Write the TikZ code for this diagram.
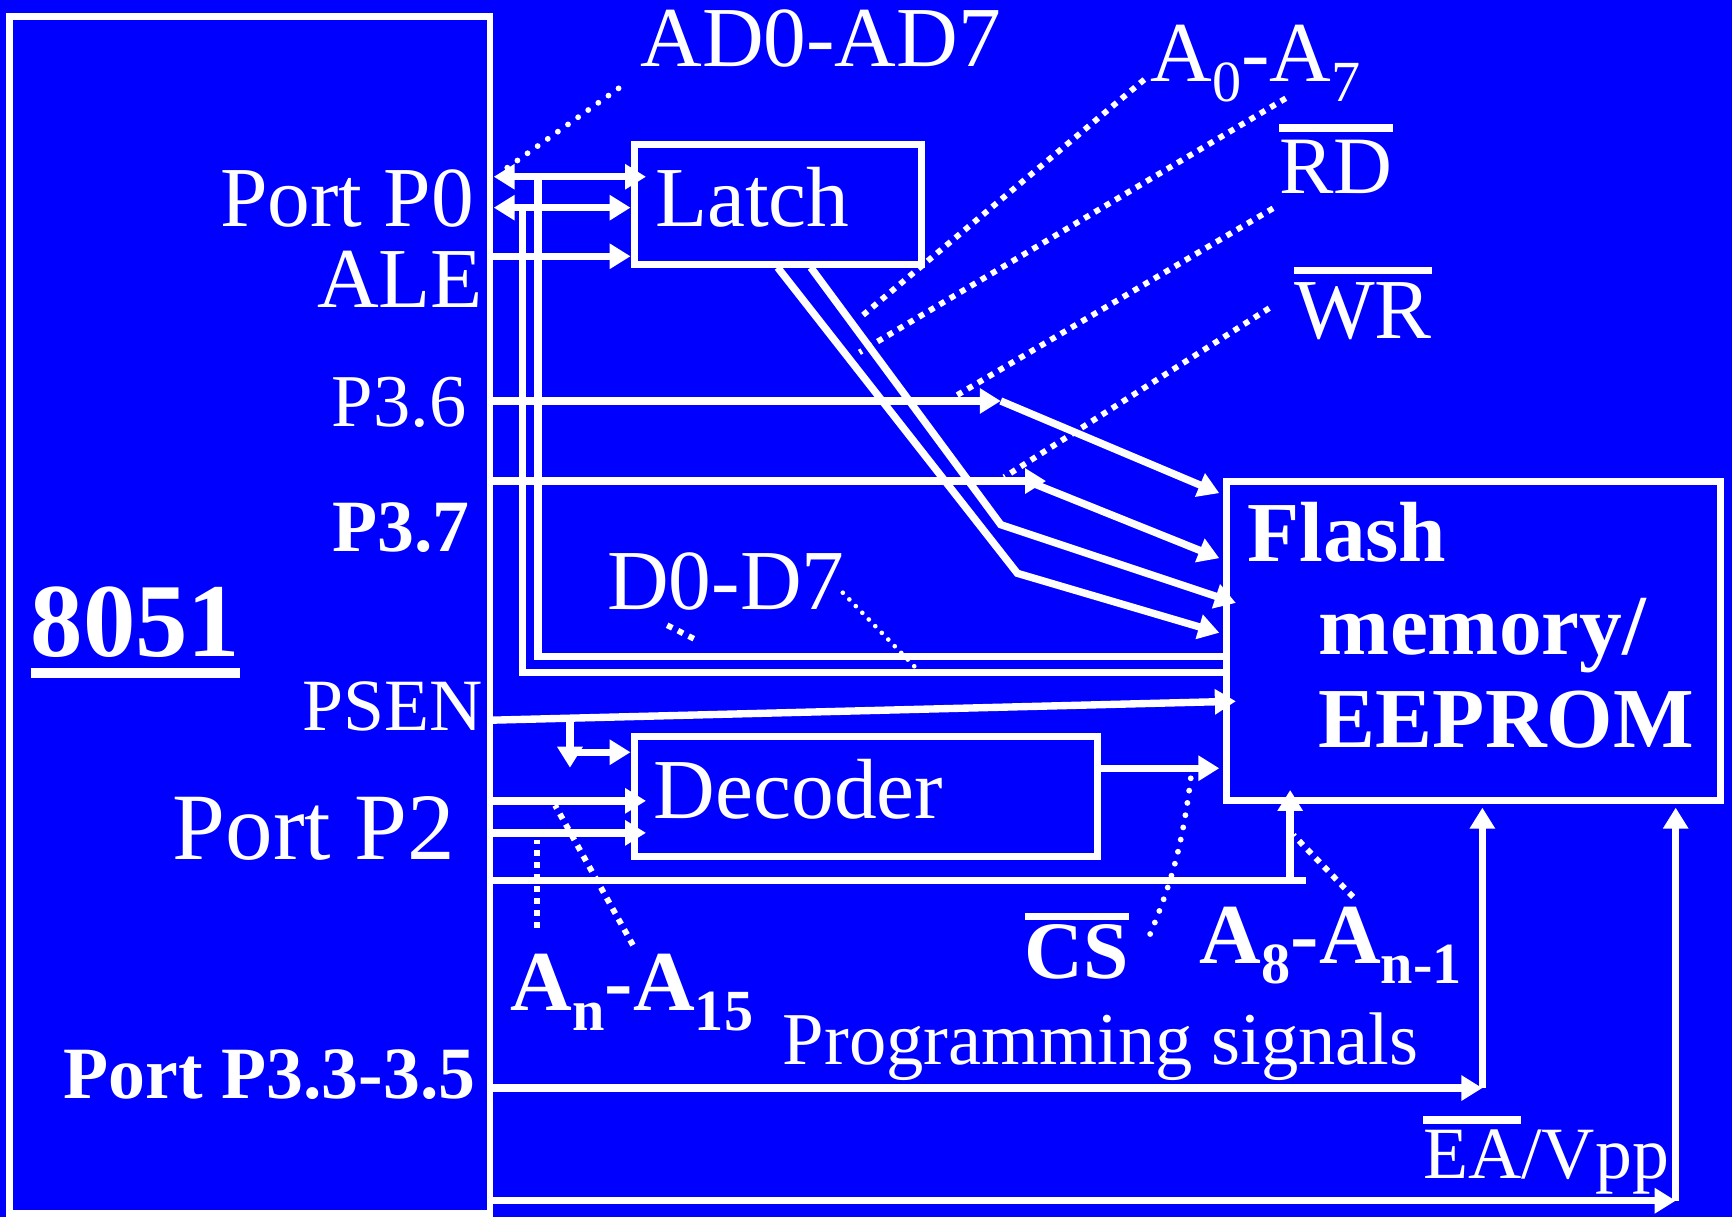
\documentclass[tikz,border=0pt]{standalone}
\usepackage{fontspec}
\setmainfont{Liberation Serif}
\usepackage{tikz}
\usetikzlibrary{arrows.meta,calc}

\definecolor{bgblue}{RGB}{0,0,255}
\newcommand{\setfs}[1]{\fontsize{#1}{#1}\selectfont}
\newcommand{\ovl}[2][2pt]{\vbox{\hrule height 2pt\kern #1\hbox{#2}}}
\newcommand{\uln}[1]{\vtop{\hbox{#1}\kern 2.8pt\hrule height 2.6pt}}
\newcommand{\lsub}[1]{\raisebox{-5.2pt}{\setfs{15}#1}}

\begin{document}
\begin{tikzpicture}[
  block/.style={rectangle, draw=white, line width=1.8pt, inner ysep=0pt, align=left, text=white},
  lbl/.style={text=white, inner sep=0pt, anchor=base west},
  wire/.style={draw=white, line width=1.9pt},
  arrow/.style={wire, -{Triangle[length=0.19cm, width=0.22cm]}},
  dblarrow/.style={wire, {Triangle[length=0.19cm, width=0.22cm]}-{Triangle[length=0.19cm, width=0.22cm]}},
  dots/.style={draw=white, line width=1.5pt, line cap=round, dash pattern=on 0pt off 3.2pt},
  sqdots/.style={draw=white, line width=1.5pt, dash pattern=on 1.5pt off 1.6pt}
]

% Background
\fill[bgblue] (0,0) rectangle (15.68,-11.02);
\useasboundingbox (0,0) rectangle (15.68,-11.02);

% Blocks
\node[block, minimum width=4.346cm, minimum height=10.84cm] (mcu) at (2.263,-5.57) {};
\node[block, minimum width=2.60cm, minimum height=1.08cm, text width=2.22cm, inner xsep=0.19cm,
  text height=0.40cm, text depth=0pt, font=\setfs{22}] (latch) at (7.04,-1.85) {Latch};
\node[block, minimum width=4.20cm, minimum height=1.08cm, text width=3.84cm, inner xsep=0.18cm,
  text height=0.394cm, text depth=0pt, font=\setfs{22}] (dec) at (7.84,-7.21) {Decoder};
\node[block, minimum width=4.48cm, minimum height=2.89cm, text width=4.10cm, inner xsep=0.19cm,
  text height=0.5cm, text depth=1.94cm, font=\fontsize{22}{23.9}\selectfont\bfseries] (flash) at (13.34,-5.805)
  {Flash\\\hspace*{0.65cm}memory/\\\hspace*{0.65cm}EEPROM};

% 8051 pin labels
\node[lbl, anchor=base east, font=\setfs{22}] (lp0) at (4.30,-2.05) {Port P0};
\node[lbl, anchor=base east, font=\setfs{22}] (lale) at (4.38,-2.78) {ALE};
\node[lbl, anchor=base east, font=\setfs{19.2}] (lp36) at (4.23,-3.86) {P3.6};
\node[lbl, anchor=base east, font=\setfs{19}\bfseries] (lp37) at (4.26,-4.99) {P3.7};
\node[lbl, font=\setfs{27}\bfseries] (lmcu) at (0.27,-5.94) {\uln{8051}};
\node[lbl, anchor=base east, font=\setfs{19}] (lpsen) at (4.38,-6.61) {PSEN};
\node[lbl, anchor=base east, font=\setfs{24.5}] (lp2) at (4.13,-7.78) {Port P2};
\node[lbl, anchor=base east, font=\setfs{19}\bfseries] (lp33) at (4.31,-9.945) {Port P3.3-3.5};

% Signal labels
\node[lbl, font=\setfs{22}] (lad) at (5.79,-0.604) {AD0-AD7};
\node[lbl, font=\setfs{22}] (la07) at (10.41,-0.74) {A\lsub{0}-A\lsub{7}};
\node[lbl, font=\setfs{21}] (lrd) at (11.576,-1.75) {\ovl{RD}};
\node[lbl, font=\setfs{22}] (lwr) at (11.71,-3.06) {\ovl{WR}};
\node[lbl, font=\setfs{22}] (ld07) at (5.49,-5.52) {D0-D7};
\node[lbl, font=\setfs{21}\bfseries] (lcs) at (9.27,-8.855) {\ovl[1pt]{CS}};
\node[lbl, font=\setfs{22}\bfseries] (la8) at (10.855,-8.72) {A\lsub{8}-A\lsub{n-1}};
\node[lbl, font=\setfs{22}\bfseries] (lan) at (4.617,-9.15) {A\lsub{n}-A\lsub{15}};
\node[lbl, font=\setfs{19.2}] (lprog) at (7.08,-9.64) {Programming signals};
\node[lbl, font=\setfs{19}] (lea) at (12.876,-10.667) {\ovl[1.4pt]{EA}/Vpp};

% Pin points on the 8051
\coordinate (p0a) at (4.47,-1.60);
\coordinate (p0b) at (4.47,-1.88);
\coordinate (ale) at (4.44,-2.32);
\coordinate (p36) at (4.44,-3.63);
\coordinate (p37) at (4.44,-4.355);
\coordinate (psen) at (4.44,-6.52);
\coordinate (p2a) at (4.44,-7.25);
\coordinate (p2b) at (4.44,-7.54);
\coordinate (p2c) at (4.44,-7.97);
\coordinate (p33) at (4.44,-9.85);
\coordinate (ea) at (4.44,-10.87);

% Port P0 / latch
\draw[dblarrow] (p0a) -- ($(latch.west |- p0a)+(0.14,0)$);
\draw[dblarrow] (p0b) -- (latch.west |- p0b);
\draw[arrow] (ale) -- (latch.west |- ale);

% Data bus D0-D7
\coordinate (bus1) at (4.87,-1.60);
\coordinate (bus1e) at (4.87,-5.945);
\coordinate (bus2) at (4.73,-1.88);
\coordinate (bus2e) at (4.73,-6.09);
\draw[wire] (bus1) -- (bus1e) -- (bus1e -| flash.west);
\draw[wire] (bus2) -- (bus2e) -- (bus2e -| flash.west);

% RD / WR
\coordinate (b36) at (9.06,-3.63);
\coordinate (b37) at (9.47,-4.355);
\coordinate (b37s) at (9.30,-4.355);
\draw[arrow] (p36) -- (b36);
\draw[arrow] (b36) -- ($(flash.north west)+(-0.03,-0.136)$);
\draw[arrow] (p37) -- (b37);
\draw[arrow] (b37s) -- ($(flash.north west)+(-0.03,-0.725)$);

% Latch outputs A0-A7
\coordinate (l1) at (9.21,-5.19);
\coordinate (l2) at (9.06,-4.75);
\draw[arrow] (latch.south) -- (l1) -- ($(flash.north west)+(-0.03,-1.40)$);
\draw[arrow] ($(latch.south)+(0.30,0)$) -- (l2) -- ($(flash.north west)+(0.12,-1.13)$);

% PSEN
\coordinate (pb) at (5.16,-6.506);
\coordinate (pbe) at (5.16,-6.95);
\coordinate (pbm) at (5.16,-6.81);
\draw[arrow] (psen) -- ($(flash.north west)+(0.12,-2.02)$);
\draw[arrow] (pb) -- (pbe);
\draw[arrow] (pbm) -- (dec.west |- pbm);

% Port P2 / decoder
\draw[arrow] (p2a) -- ($(dec.west |- p2a)+(0.14,0)$);
\draw[arrow] (p2b) -- ($(dec.west |- p2b)+(0.14,0)$);
\coordinate (dout) at ($(dec.east)+(0,0.255)$);
\draw[arrow] (dout) -- ($(dout -| flash.west)+(-0.03,0)$);
\coordinate (a8end) at (11.825,-7.97);
\coordinate (a8) at (11.68,-7.97);
\draw[wire] (p2c) -- (a8end);
\draw[arrow] (a8) -- ($(a8 |- flash.south)+(0,0.13)$);

% Programming signals and EA/Vpp
\coordinate (pg) at (13.42,-9.85);
\coordinate (eav) at (15.17,-10.87);
\draw[arrow] (p33) -- (pg);
\draw[arrow] (pg) -- ($(pg |- flash.south)+(0,-0.03)$);
\draw[arrow] (ea) -- (eav);
\draw[arrow] (eav) -- ($(eav |- flash.south)+(0,-0.03)$);

% Dotted pointers
\coordinate (adt) at (5.60,-0.80);   \coordinate (adh) at (4.59,-1.52);
\coordinate (a0t) at (10.36,-0.72);  \coordinate (a0h) at (7.78,-2.88);
\coordinate (a7t) at (11.64,-0.89);  \coordinate (a7h) at (7.78,-3.19);
\coordinate (rdt) at (11.525,-1.886); \coordinate (rdh) at (8.66,-3.58);
\coordinate (wrt) at (11.49,-2.79);  \coordinate (wrh) at (9.09,-4.32);
\coordinate (d0t) at (6.04,-5.66);   \coordinate (d0h) at (6.315,-5.80);
\coordinate (d7t) at (7.63,-5.366);  \coordinate (d7h) at (8.28,-6.035);
\coordinate (ant) at (4.86,-8.40);   \coordinate (anh) at (4.86,-7.605);
\coordinate (a15t) at (5.73,-8.556); \coordinate (a15h) at (5.025,-7.29);
\coordinate (cst) at (10.37,-8.556); \coordinate (csh) at (10.78,-7.046);
\coordinate (a8t) at (12.25,-8.12);  \coordinate (a8h) at (11.71,-7.56);
\draw[dots] (adt) -- (adh);
\draw[sqdots] (a0t) -- (a0h);
\draw[sqdots] (a7t) -- (a7h);
\draw[sqdots] (rdt) -- (rdh);
\draw[sqdots] (wrt) -- (wrh);
\draw[sqdots] (d0t) -- (d0h);
\draw[dots, line width=1.2pt, dash pattern=on 0pt off 2.4pt] (d7t) -- (d7h);
\draw[sqdots] (ant) -- (anh);
\draw[sqdots] (a15t) -- (a15h);
\draw[dots] (csh) to[bend left=8] (cst);
\draw[sqdots] (a8t) -- (a8h);

\end{tikzpicture}
\end{document}
